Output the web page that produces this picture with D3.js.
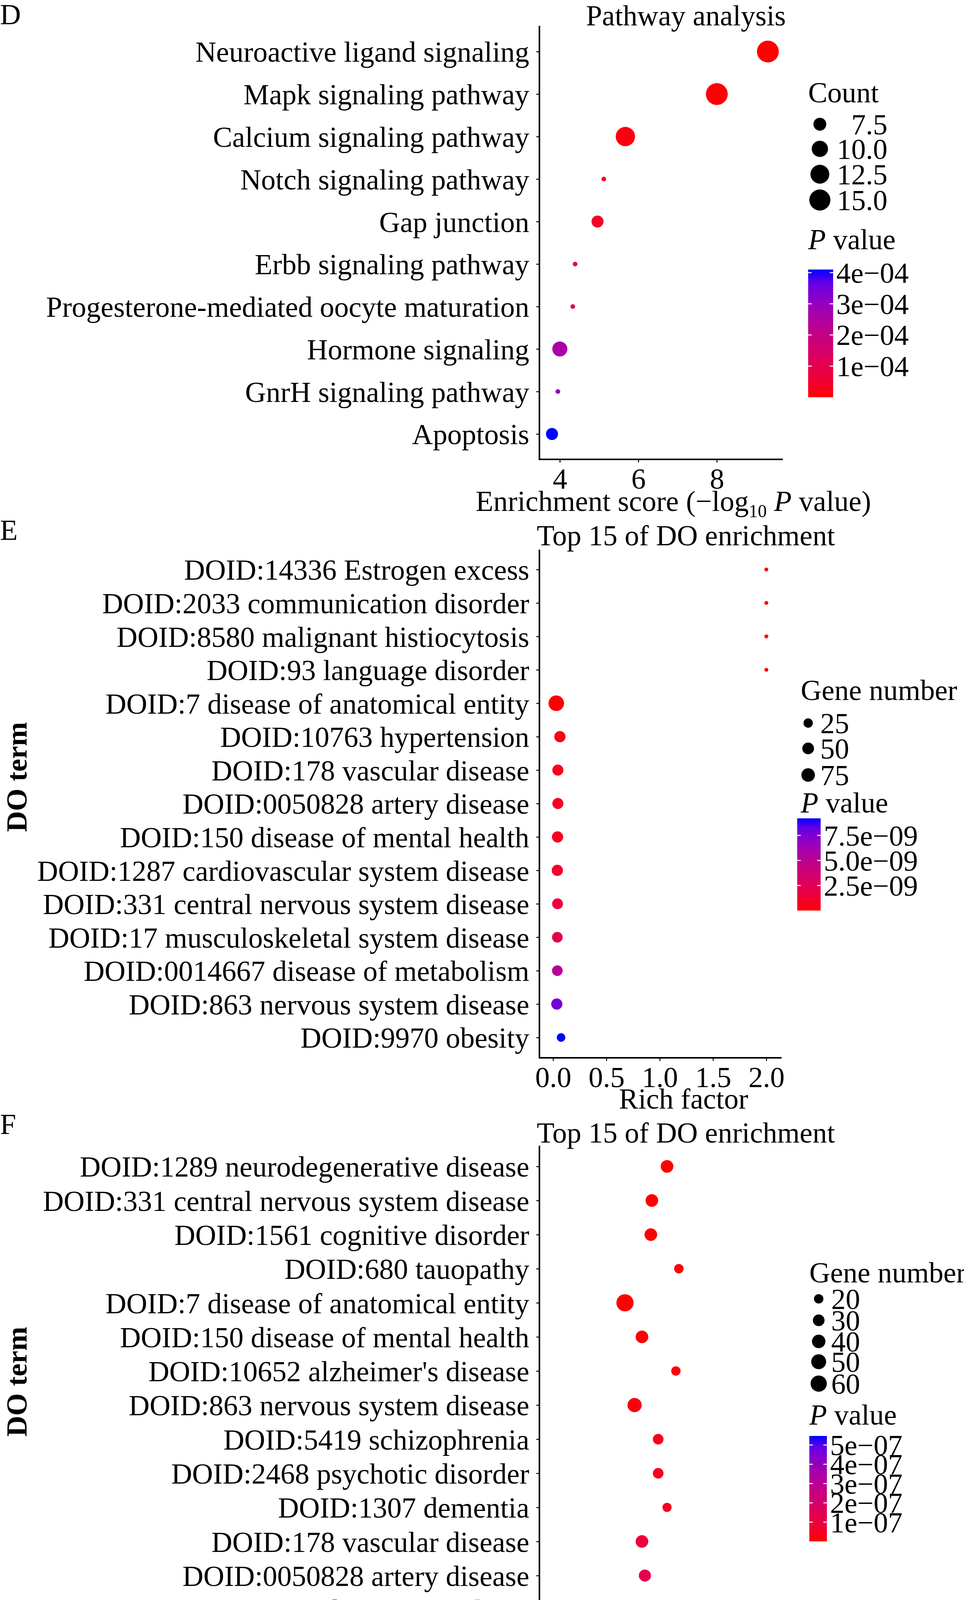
<!DOCTYPE html>
<html>
<head>
<meta charset="utf-8">
<script src="https://cdn.jsdelivr.net/npm/d3@7"></script>
<style>
  body { margin: 0; background: #fff; }
  text { font-family: "Liberation Serif", "Times New Roman", serif; fill: #000; }
</style>
</head>
<body>
<svg id="chart" width="2468" height="4424"></svg>
<script>
// ---- panel D: pathway analysis ----
const pathTerms = ["Neuroactive ligand signaling", "Mapk signaling pathway", "Calcium signaling pathway",
  "Notch signaling pathway", "Gap junction", "Erbb signaling pathway",
  "Progesterone-mediated oocyte maturation", "Hormone signaling", "GnrH signaling pathway", "Apoptosis"];
const pathScore = [9.3, 8.0, 5.67, 5.12, 4.96, 4.39, 4.33, 4.0, 3.95, 3.8];
const pathCount = [16, 16, 13, 5, 7, 5, 5, 9, 5, 7];
const pathP = [0.000001, 0.000002, 0.00001, 0.00005, 0.00004, 0.00011, 0.00012, 0.00026, 0.00030, 0.00041];
const pathSizeLegend = [7.5, 10.0, 12.5, 15.0];
const pathPTicks = [0.0001, 0.0002, 0.0003, 0.0004];
const pathXTicks = [4, 6, 8];

// ---- panel E: DO enrichment ----
const doETerms = ["DOID:14336 Estrogen excess", "DOID:2033 communication disorder", "DOID:8580 malignant histiocytosis",
  "DOID:93 language disorder", "DOID:7 disease of anatomical entity", "DOID:10763 hypertension",
  "DOID:178 vascular disease", "DOID:0050828 artery disease", "DOID:150 disease of mental health",
  "DOID:1287 cardiovascular system disease", "DOID:331 central nervous system disease",
  "DOID:17 musculoskeletal system disease", "DOID:0014667 disease of metabolism",
  "DOID:863 nervous system disease", "DOID:9970 obesity"];
const doERich = [2.0, 2.0, 2.0, 2.0, 0.03, 0.064, 0.045, 0.045, 0.042, 0.04, 0.042, 0.04, 0.04, 0.035, 0.075];
const doEGenes = [2, 2, 2, 2, 110, 45, 42, 42, 44, 44, 40, 38, 38, 44, 19];
const doEP = [1e-10, 1e-10, 1e-10, 1e-10, 2e-11, 3e-10, 5e-10, 6e-10, 7e-10, 1.0e-9, 1.6e-9, 2.0e-9, 5.2e-9, 7.8e-9, 9.2e-9];
const doESizeLegend = [25, 50, 75];
const doEPTicks = [2.5e-9, 5.0e-9, 7.5e-9];
const doEPLabels = ["2.5e\u221209", "5.0e\u221209", "7.5e\u221209"];
const doEXTicks = [0.0, 0.5, 1.0, 1.5, 2.0];

// ---- panel F: DO enrichment ----
const doFTerms = ["DOID:1289 neurodegenerative disease", "DOID:331 central nervous system disease",
  "DOID:1561 cognitive disorder", "DOID:680 tauopathy", "DOID:7 disease of anatomical entity",
  "DOID:150 disease of mental health", "DOID:10652 alzheimer's disease", "DOID:863 nervous system disease",
  "DOID:5419 schizophrenia", "DOID:2468 psychotic disorder", "DOID:1307 dementia",
  "DOID:178 vascular disease", "DOID:0050828 artery disease", "DOID:0060072 benign neoplasm",
  "DOID:14330 parkinson's disease"];
const doFRich = [0.049, 0.0387, 0.038, 0.057, 0.0205, 0.032, 0.055, 0.027, 0.043, 0.043, 0.049, 0.032, 0.034, 0.043, 0.077];
const doFGenes = [35, 35, 35, 20, 68, 35, 20, 45, 25, 25, 19, 35, 32, 25, 10];
const doFP = [1e-9, 2e-9, 3e-9, 5e-9, 1e-10, 6e-9, 1.0e-8, 1.5e-8, 3.0e-8, 3.5e-8, 4.0e-8, 9e-8, 1.3e-7, 2.6e-7, 5.47e-7];
const doFSizeLegend = [20, 30, 40, 50, 60];
const doFPTicks = [1e-7, 2e-7, 3e-7, 4e-7, 5e-7];
const doFXTicks = [0.00, 0.05, 0.10];

const svg = d3.select("#chart");
const FS = 74;

function drawPanel(cfg) {
  const g = svg.append("g");
  const x = d3.scaleLinear().domain(cfg.xDomain).range([cfg.left, cfg.right]);
  const y = d3.scalePoint().domain(cfg.terms).range([cfg.yFirst, cfg.yLast]);
  const rScale = c => cfg.rMin + (cfg.rMax - cfg.rMin) * Math.sqrt(Math.max(0, (c - cfg.cMin) / (cfg.cMax - cfg.cMin)));
  const col = d3.scaleLinear().domain([0, cfg.pMax]).range(["#ff0000", "#0000ff"]).interpolate(d3.interpolateLab);

  g.append("text").attr("x", 0).attr("y", cfg.letterY).attr("font-size", FS).text(cfg.letter);
  g.append("text").attr("x", cfg.titleX).attr("y", cfg.titleY).attr("text-anchor", "middle")
    .attr("font-size", FS).text(cfg.title);

  // axes
  const xAxis = g.append("g").attr("transform", `translate(0,${cfg.bottom})`)
    .call(d3.axisBottom(x).tickValues(cfg.xTicks).tickSize(8).tickPadding(14).tickFormat(cfg.xFormat));
  const yAxis = g.append("g").attr("transform", `translate(${cfg.left},0)`)
    .call(d3.axisLeft(y).tickSize(8).tickPadding(18));
  [xAxis, yAxis].forEach(a => {
    a.select(".domain").remove();
    a.selectAll("line").attr("stroke", "#000").attr("stroke-width", 2.5);
    a.selectAll("text").attr("font-size", FS).attr("font-family", "Liberation Serif").attr("fill", "#000");
  });
  yAxis.selectAll("text").attr("dy", "0.35em");
  g.append("path").attr("d", `M${cfg.left},${cfg.top}V${cfg.bottom}H${cfg.right}`)
    .attr("fill", "none").attr("stroke", "#000").attr("stroke-width", 4);

  // points
  g.selectAll("circle.pt").data(cfg.terms).join("circle").attr("class", "pt")
    .attr("cx", (d, i) => x(cfg.xVals[i])).attr("cy", d => y(d))
    .attr("r", (d, i) => rScale(cfg.sizes[i])).attr("fill", (d, i) => col(cfg.pvals[i]));

  // x title
  const xt = g.append("text").attr("x", cfg.xTitleX).attr("y", cfg.xTitleY).attr("text-anchor", "middle").attr("font-size", FS);
  cfg.xTitle(xt);

  if (cfg.yTitle) {
    g.append("text").attr("transform", `translate(${cfg.yTitleX},${cfg.yTitleY}) rotate(-90)`)
      .attr("text-anchor", "middle").attr("font-size", 74).attr("font-weight", "bold")
      .attr("font-family", "DejaVu Serif").text(cfg.yTitle);
  }

  // size legend
  g.append("text").attr("x", cfg.legX).attr("y", cfg.sizeTitleY).attr("font-size", FS).text(cfg.sizeTitle);
  const sl = g.selectAll("g.sl").data(cfg.sizeLegend).join("g").attr("class", "sl")
    .attr("transform", (d, i) => `translate(0,${cfg.sizeYs[i]})`);
  sl.append("circle").attr("cx", cfg.dotX).attr("r", d => rScale(d)).attr("fill", "#000");
  sl.append("text").attr("x", cfg.sizeLabelX).attr("dy", "0.35em").attr("font-size", FS)
    .attr("text-anchor", cfg.sizeAnchor).text(d => cfg.sizeFormat(d));

  // P value legend
  const pt = g.append("text").attr("x", cfg.legX).attr("y", cfg.pTitleY).attr("font-size", FS);
  pt.append("tspan").attr("font-style", "italic").text("P");
  pt.append("tspan").text(" value");
  const gid = "grad" + cfg.letter;
  const grad = svg.append("defs").append("linearGradient").attr("id", gid)
    .attr("x1", 0).attr("y1", 1).attr("x2", 0).attr("y2", 0);
  d3.range(0, 1.0001, 0.1).forEach(t => grad.append("stop").attr("offset", t).attr("stop-color", col(t * cfg.pMax)));
  const cb = d3.scaleLinear().domain([0, cfg.pMax]).range([cfg.cbBottom, cfg.cbTop]);
  g.append("rect").attr("x", cfg.cbX).attr("y", cfg.cbTop).attr("width", cfg.cbW)
    .attr("height", cfg.cbBottom - cfg.cbTop).attr("fill", `url(#${gid})`);
  cfg.pTicks.forEach((v, i) => {
    const yy = cb(v);
    [[cfg.cbX, cfg.cbX + 9], [cfg.cbX + cfg.cbW - 9, cfg.cbX + cfg.cbW]].forEach(([a, b]) =>
      g.append("line").attr("x1", a).attr("x2", b).attr("y1", yy).attr("y2", yy)
        .attr("stroke", "#fff").attr("stroke-width", 2.5));
    g.append("text").attr("x", cfg.cbX + cfg.cbW + 8).attr("y", yy).attr("dy", "0.35em")
      .attr("font-size", FS).text(cfg.pLabels[i]);
  });
}

drawPanel({
  letter: "D", letterY: 62, title: "Pathway analysis", titleX: 1756, titleY: 65,
  terms: pathTerms, xVals: pathScore, sizes: pathCount, pvals: pathP,
  xDomain: [3.48, 9.68], left: 1381, right: 2004, top: 66, bottom: 1176, yFirst: 132, yLast: 1111,
  xTicks: pathXTicks, xFormat: d3.format("d"),
  rMin: 6, rMax: 28, cMin: 5, cMax: 16, pMax: 0.00041,
  xTitleX: 1724, xTitleY: 1308,
  xTitle: t => {
    t.append("tspan").text("Enrichment score (\u2212log");
    t.append("tspan").attr("font-size", 46).attr("dy", 16).text("10");
    t.append("tspan").attr("dy", -16).text(" ");
    t.append("tspan").attr("font-style", "italic").text("P");
    t.append("tspan").text(" value)");
  },
  legX: 2069, sizeTitle: "Count", sizeTitleY: 262, sizeLegend: pathSizeLegend, sizeYs: [318, 381, 446, 512],
  dotX: 2099, sizeLabelX: 2272, sizeAnchor: "end", sizeFormat: d3.format(".1f"),
  pTitleY: 638, cbX: 2069, cbW: 64, cbTop: 690, cbBottom: 1017,
  pTicks: pathPTicks, pLabels: ["1e\u221204", "2e\u221204", "3e\u221204", "4e\u221204"]
});

drawPanel({
  letter: "E", letterY: 1382, title: "Top 15 of DO enrichment", titleX: 1756, titleY: 1396,
  terms: doETerms, xVals: doERich, sizes: doEGenes, pvals: doEP,
  xDomain: [-0.128, 2.143], left: 1381, right: 2001, top: 1407, bottom: 2708, yFirst: 1458, yLast: 2656,
  xTicks: doEXTicks, xFormat: d3.format(".1f"),
  rMin: 5, rMax: 20, cMin: 2, cMax: 110, pMax: 9.2e-9,
  xTitleX: 1750, xTitleY: 2838,
  xTitle: t => t.text("Rich factor"),
  yTitle: "DO term", yTitleX: 68, yTitleY: 1989,
  legX: 2050, sizeTitle: "Gene number", sizeTitleY: 1792, sizeLegend: doESizeLegend, sizeYs: [1851, 1916, 1984],
  dotX: 2069, sizeLabelX: 2100, sizeAnchor: "start", sizeFormat: d3.format("d"),
  pTitleY: 2080, cbX: 2041, cbW: 60, cbTop: 2095, cbBottom: 2331,
  pTicks: doEPTicks, pLabels: doEPLabels
});

drawPanel({
  letter: "F", letterY: 2903, title: "Top 15 of DO enrichment", titleX: 1756, titleY: 2925,
  terms: doFTerms, xVals: doFRich, sizes: doFGenes, pvals: doFP,
  xDomain: [-0.0375, 0.133], left: 1381, right: 2025, top: 2933, bottom: 4261, yFirst: 2986, yLast: 4208,
  xTicks: doFXTicks, xFormat: d3.format(".2f"),
  rMin: 5, rMax: 22, cMin: 10, cMax: 68, pMax: 5.47e-7,
  xTitleX: 1740, xTitleY: 4404,
  xTitle: t => t.text("Rich factor"),
  yTitle: "DO term", yTitleX: 68, yTitleY: 3537,
  legX: 2072, sizeTitle: "Gene number", sizeTitleY: 3283, sizeLegend: doFSizeLegend, sizeYs: [3325, 3380, 3434, 3486, 3542],
  dotX: 2096, sizeLabelX: 2128, sizeAnchor: "start", sizeFormat: d3.format("d"),
  pTitleY: 3647, cbX: 2072, cbW: 45, cbTop: 3676, cbBottom: 3946,
  pTicks: doFPTicks, pLabels: ["1e\u221207", "2e\u221207", "3e\u221207", "4e\u221207", "5e\u221207"]
});
</script>
</body>
</html>
